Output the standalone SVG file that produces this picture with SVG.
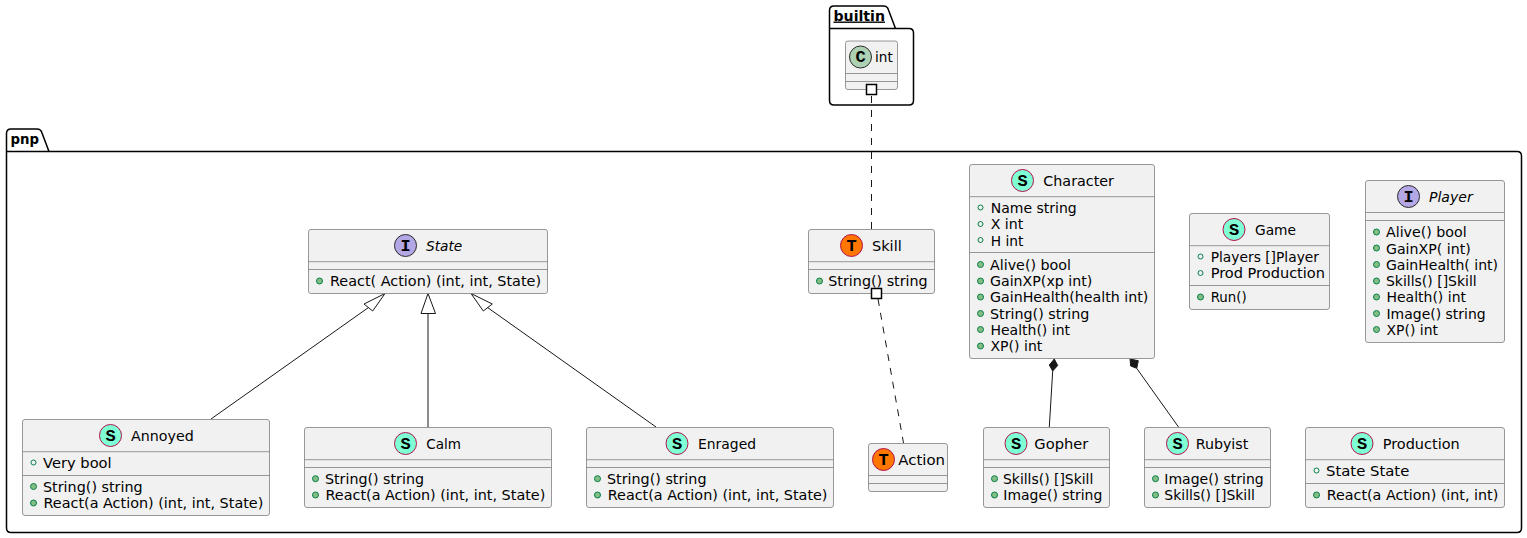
<svg xmlns="http://www.w3.org/2000/svg" width="1527" height="538" viewBox="0 0 1527 538">
<style>
text{font-family:"DejaVu Sans",sans-serif;font-size:14.3px;fill:#000;lengthAdjust:spacingAndGlyphs}
.pkg{fill:none;stroke:#000;stroke-width:1.5}
.pt{font-weight:bold;font-size:14px}
.box{fill:#f1f1f1;stroke:#7f7f7f;stroke-width:.8}
.sep{stroke:#7f7f7f;stroke-width:.8}
.bs,.bt,.bi,.bc{stroke-width:1}
.bs{fill:#7fffd4;stroke:#b4104f}
.bt{fill:#ff7700;stroke:#b4104f}
.bi{fill:#b4a7e5;stroke:#2a2a2a}
.bc{fill:#add1b2;stroke:#2a2a2a}
.g{font-family:"Liberation Mono",monospace;font-size:17px;font-weight:bold;text-anchor:middle}
.m{fill:#84be84;stroke:#038048;stroke-width:1}
.f{fill:none;stroke:#038048;stroke-width:1}
.i{font-style:italic}
.c{fill:none;stroke:#181818;stroke-width:1}
.d{stroke-dasharray:7,7}
.e{fill:none;stroke:#181818;stroke-width:1}
.s{fill:#181818;stroke:#181818;stroke-width:1}
.a{fill:#fff;stroke:#000;stroke-width:1.5}
</style>
<g id="pkg-builtin">
<path class="pkg" d="M829.500 28.500V10.500Q829.500 6 834 6H883.500Q887.500 6 888.500 10L895.500 28.500H909Q913.500 28.500 913.500 33V100.500Q913.500 105 909 105H834Q829.500 105 829.500 100.500ZM829.500 28.500H895.500"/>
<text class="pt" x="833.500" y="20.500" text-decoration="underline" textLength="51.500" lengthAdjust="spacingAndGlyphs">builtin</text>
</g>
<g id="pkg-pnp">
<path class="pkg" d="M6.500 151.500V133.500Q6.500 129 11 129H37Q41 129 42 133L49 151.500H1517Q1521.500 151.500 1521.500 156V528Q1521.500 532.500 1517 532.500H11Q6.500 532.500 6.500 528ZM6.500 151.500H49"/>
<text class="pt" x="10.500" y="143.500" textLength="28.500" lengthAdjust="spacingAndGlyphs">pnp</text>
</g>
<g id="connectors">
<path class="c d" d="M871.500 96V229"/>
<path class="c d" d="M878 299L903.500 443"/>
<path class="c" d="M211 419L368.500 307.500"/>
<path class="e" d="M385 293.500L364 304L372.700 311Z"/>
<path class="c" d="M428 427V313.500"/>
<path class="e" d="M428 293.500L421 313.500H435.500Z"/>
<path class="c" d="M656 427L487.500 307.500"/>
<path class="e" d="M471 293.500L483.300 311L492.300 304Z"/>
<path class="c" d="M1049.300 427L1052.700 371"/>
<path class="s" d="M1054.300 359L1049.300 365L1052.700 371L1057.700 365.500Z"/>
<path class="c" d="M1178.500 427L1136.700 368.300"/>
<path class="s" d="M1130 359L1130.700 366L1136.700 368.300L1138.300 360.700Z"/>
</g>
<g id="node-int">
<rect class="box" x="845.500" y="41" width="52" height="48.500" rx="2.500"/>
<path class="sep" d="M845.500 73.500H897.500M845.500 81.500H897.500"/>
<circle class="bc" cx="860.500" cy="57" r="11"/><text class="g" x="860.500" y="62">C</text>
<text x="875" y="62" textLength="17.700" lengthAdjust="spacingAndGlyphs">int</text>
<rect class="a" x="866.500" y="84.500" width="10" height="10"/>
</g>
<g id="node-state">
<rect class="box" x="308.500" y="229.500" width="239" height="64" rx="2.500"/>
<path class="sep" d="M308.500 261.700H547.500M308.500 269.500H547.500"/>
<circle class="bi" cx="405.500" cy="245.500" r="11"/><text class="g" x="405.500" y="250.500">I</text>
<text class="i" x="426" y="250.500" textLength="36.300" lengthAdjust="spacingAndGlyphs">State</text>
<circle class="m" cx="319.500" cy="281" r="3"/><text x="330" y="286" textLength="211" lengthAdjust="spacingAndGlyphs">React( Action) (int, int, State)</text>
</g>
<g id="node-skill">
<rect class="box" x="808.500" y="229.500" width="126" height="64" rx="2.500"/>
<path class="sep" d="M808.500 261.700H934.500M808.500 269.500H934.500"/>
<circle class="bt" cx="851.500" cy="245.500" r="11"/><text class="g" x="851.500" y="250.500">T</text>
<text x="872" y="250.500" textLength="29.700" lengthAdjust="spacingAndGlyphs">Skill</text>
<circle class="m" cx="819.500" cy="281" r="3"/><text x="828.300" y="286" textLength="99.400" lengthAdjust="spacingAndGlyphs">String() string</text>
<rect class="a" x="871.500" y="288.500" width="10" height="10"/>
</g>
<g id="node-character">
<rect class="box" x="969.500" y="164.500" width="185" height="194" rx="2.500"/>
<path class="sep" d="M969.500 196.700H1154.500M969.500 252.500H1154.500"/>
<circle class="bs" cx="1022.500" cy="180.500" r="11"/><text class="g" x="1022.500" y="185.500">S</text>
<text x="1043.300" y="185.500" textLength="70.700" lengthAdjust="spacingAndGlyphs">Character</text>
<circle class="f" cx="980.500" cy="207.500" r="2.500"/><text x="990.700" y="213" textLength="86" lengthAdjust="spacingAndGlyphs">Name string</text>
<circle class="f" cx="980.500" cy="224" r="2.500"/><text x="990.700" y="229" textLength="32.600" lengthAdjust="spacingAndGlyphs">X int</text>
<circle class="f" cx="980.500" cy="240" r="2.500"/><text x="990.700" y="245.500" textLength="32.600" lengthAdjust="spacingAndGlyphs">H int</text>
<circle class="m" cx="980.500" cy="264.500" r="3"/><text x="990" y="269.500" textLength="81" lengthAdjust="spacingAndGlyphs">Alive() bool</text>
<circle class="m" cx="980.500" cy="281" r="3"/><text x="990" y="286" textLength="102.300" lengthAdjust="spacingAndGlyphs">GainXP(xp int)</text>
<circle class="m" cx="980.500" cy="297" r="3"/><text x="990" y="302" textLength="158.300" lengthAdjust="spacingAndGlyphs">GainHealth(health int)</text>
<circle class="m" cx="980.500" cy="313.500" r="3"/><text x="990" y="318.500" textLength="99.300" lengthAdjust="spacingAndGlyphs">String() string</text>
<circle class="m" cx="980.500" cy="329.500" r="3"/><text x="990.500" y="335" textLength="79.500" lengthAdjust="spacingAndGlyphs">Health() int</text>
<circle class="m" cx="980.500" cy="346" r="3"/><text x="990.500" y="351" textLength="51.800" lengthAdjust="spacingAndGlyphs">XP() int</text>
</g>
<g id="node-game">
<rect class="box" x="1189.500" y="213.500" width="140" height="96" rx="2.500"/>
<path class="sep" d="M1189.500 245.700H1329.500M1189.500 285.500H1329.500"/>
<circle class="bs" cx="1234" cy="229.500" r="11"/><text class="g" x="1234" y="234.500">S</text>
<text x="1255" y="234.500" textLength="41" lengthAdjust="spacingAndGlyphs">Game</text>
<circle class="f" cx="1200.500" cy="256.500" r="2.500"/><text x="1210.700" y="262" textLength="108.300" lengthAdjust="spacingAndGlyphs">Players []Player</text>
<circle class="f" cx="1200.500" cy="273" r="2.500"/><text x="1210.700" y="278" textLength="114.300" lengthAdjust="spacingAndGlyphs">Prod Production</text>
<circle class="m" cx="1200.500" cy="297" r="3"/><text x="1210.700" y="302" textLength="36" lengthAdjust="spacingAndGlyphs">Run()</text>
</g>
<g id="node-player">
<rect class="box" x="1365.500" y="180.500" width="139" height="162" rx="2.500"/>
<path class="sep" d="M1365.500 212.500H1504.500M1365.500 220.500H1504.500"/>
<circle class="bi" cx="1408.500" cy="196.500" r="11"/><text class="g" x="1408.500" y="201.500">I</text>
<text class="i" x="1429" y="201.500" textLength="43.700" lengthAdjust="spacingAndGlyphs">Player</text>
<circle class="m" cx="1376.500" cy="232" r="3"/><text x="1386" y="237" textLength="80.700" lengthAdjust="spacingAndGlyphs">Alive() bool</text>
<circle class="m" cx="1376.500" cy="248" r="3"/><text x="1386" y="253.500" textLength="84.700" lengthAdjust="spacingAndGlyphs">GainXP( int)</text>
<circle class="m" cx="1376.500" cy="264.500" r="3"/><text x="1386" y="269.500" textLength="112" lengthAdjust="spacingAndGlyphs">GainHealth( int)</text>
<circle class="m" cx="1376.500" cy="281" r="3"/><text x="1386" y="286" textLength="90.700" lengthAdjust="spacingAndGlyphs">Skills() []Skill</text>
<circle class="m" cx="1376.500" cy="297" r="3"/><text x="1386.500" y="302" textLength="79.500" lengthAdjust="spacingAndGlyphs">Health() int</text>
<circle class="m" cx="1376.500" cy="313.500" r="3"/><text x="1386.500" y="318.500" textLength="99.200" lengthAdjust="spacingAndGlyphs">Image() string</text>
<circle class="m" cx="1376.500" cy="329.500" r="3"/><text x="1386.500" y="335" textLength="51.500" lengthAdjust="spacingAndGlyphs">XP() int</text>
</g>
<g id="node-annoyed">
<rect class="box" x="22.500" y="419.500" width="247" height="96" rx="2.500"/>
<path class="sep" d="M22.500 451.700H269.500M22.500 475.500H269.500"/>
<circle class="bs" cx="110.500" cy="435.500" r="11"/><text class="g" x="110.500" y="440.500">S</text>
<text x="131" y="440.500" textLength="62.700" lengthAdjust="spacingAndGlyphs">Annoyed</text>
<circle class="f" cx="33.500" cy="462.500" r="2.500"/><text x="43" y="468" textLength="68.700" lengthAdjust="spacingAndGlyphs">Very bool</text>
<circle class="m" cx="33.500" cy="486.500" r="3"/><text x="43" y="492" textLength="99.700" lengthAdjust="spacingAndGlyphs">String() string</text>
<circle class="m" cx="33.500" cy="503" r="3"/><text x="43.500" y="508" textLength="219.800" lengthAdjust="spacingAndGlyphs">React(a Action) (int, int, State)</text>
</g>
<g id="node-calm">
<rect class="box" x="304.500" y="427.500" width="247" height="80" rx="2.500"/>
<path class="sep" d="M304.500 459.700H551.500M304.500 467.500H551.500"/>
<circle class="bs" cx="405.500" cy="443.500" r="11"/><text class="g" x="405.500" y="448.500">S</text>
<text x="426.300" y="448.500" textLength="34.700" lengthAdjust="spacingAndGlyphs">Calm</text>
<circle class="m" cx="315.500" cy="478.700" r="3"/><text x="325" y="484" textLength="99" lengthAdjust="spacingAndGlyphs">String() string</text>
<circle class="m" cx="315.500" cy="495" r="3"/><text x="325.500" y="500" textLength="219.800" lengthAdjust="spacingAndGlyphs">React(a Action) (int, int, State)</text>
</g>
<g id="node-enraged">
<rect class="box" x="586.500" y="427.500" width="247" height="80" rx="2.500"/>
<path class="sep" d="M586.500 459.700H833.500M586.500 467.500H833.500"/>
<circle class="bs" cx="677" cy="443.500" r="11"/><text class="g" x="677" y="448.500">S</text>
<text x="698" y="448.500" textLength="58" lengthAdjust="spacingAndGlyphs">Enraged</text>
<circle class="m" cx="597.500" cy="478.700" r="3"/><text x="607" y="484" textLength="99.500" lengthAdjust="spacingAndGlyphs">String() string</text>
<circle class="m" cx="597.500" cy="495" r="3"/><text x="607.700" y="500" textLength="219.800" lengthAdjust="spacingAndGlyphs">React(a Action) (int, int, State)</text>
</g>
<g id="node-action">
<rect class="box" x="868.500" y="443.500" width="79" height="48" rx="2.500"/>
<path class="sep" d="M868.500 475.500H947.500M868.500 483.500H947.500"/>
<circle class="bt" cx="883.500" cy="459.500" r="11"/><text class="g" x="883.500" y="464.500">T</text>
<text x="898.300" y="464.500" textLength="46.700" lengthAdjust="spacingAndGlyphs">Action</text>
</g>
<g id="node-gopher">
<rect class="box" x="983.500" y="427.500" width="126" height="80" rx="2.500"/>
<path class="sep" d="M983.500 459.700H1109.500M983.500 467.500H1109.500"/>
<circle class="bs" cx="1016" cy="443.500" r="11"/><text class="g" x="1016" y="448.500">S</text>
<text x="1034.300" y="448.500" textLength="54" lengthAdjust="spacingAndGlyphs">Gopher</text>
<circle class="m" cx="994.500" cy="478.700" r="3"/><text x="1003" y="484" textLength="90.300" lengthAdjust="spacingAndGlyphs">Skills() []Skill</text>
<circle class="m" cx="994.500" cy="495" r="3"/><text x="1003.300" y="500" textLength="99" lengthAdjust="spacingAndGlyphs">Image() string</text>
</g>
<g id="node-rubyist">
<rect class="box" x="1144.500" y="427.500" width="126" height="80" rx="2.500"/>
<path class="sep" d="M1144.500 459.700H1270.500M1144.500 467.500H1270.500"/>
<circle class="bs" cx="1177.500" cy="443.500" r="11"/><text class="g" x="1177.500" y="448.500">S</text>
<text x="1195.700" y="448.500" textLength="52.600" lengthAdjust="spacingAndGlyphs">Rubyist</text>
<circle class="m" cx="1155.500" cy="478.700" r="3"/><text x="1164.300" y="484" textLength="99.400" lengthAdjust="spacingAndGlyphs">Image() string</text>
<circle class="m" cx="1155.500" cy="495" r="3"/><text x="1164.300" y="500" textLength="90.700" lengthAdjust="spacingAndGlyphs">Skills() []Skill</text>
</g>
<g id="node-production">
<rect class="box" x="1305.500" y="427.500" width="199" height="80" rx="2.500"/>
<path class="sep" d="M1305.500 459.700H1504.500M1305.500 483.500H1504.500"/>
<circle class="bs" cx="1362" cy="443.500" r="11"/><text class="g" x="1362" y="448.500">S</text>
<text x="1382.700" y="448.500" textLength="77" lengthAdjust="spacingAndGlyphs">Production</text>
<circle class="f" cx="1316.500" cy="470.500" r="2.500"/><text x="1326" y="476" textLength="83.300" lengthAdjust="spacingAndGlyphs">State State</text>
<circle class="m" cx="1316.500" cy="495" r="3"/><text x="1326.700" y="500" textLength="171.600" lengthAdjust="spacingAndGlyphs">React(a Action) (int, int)</text>
</g>
</svg>
